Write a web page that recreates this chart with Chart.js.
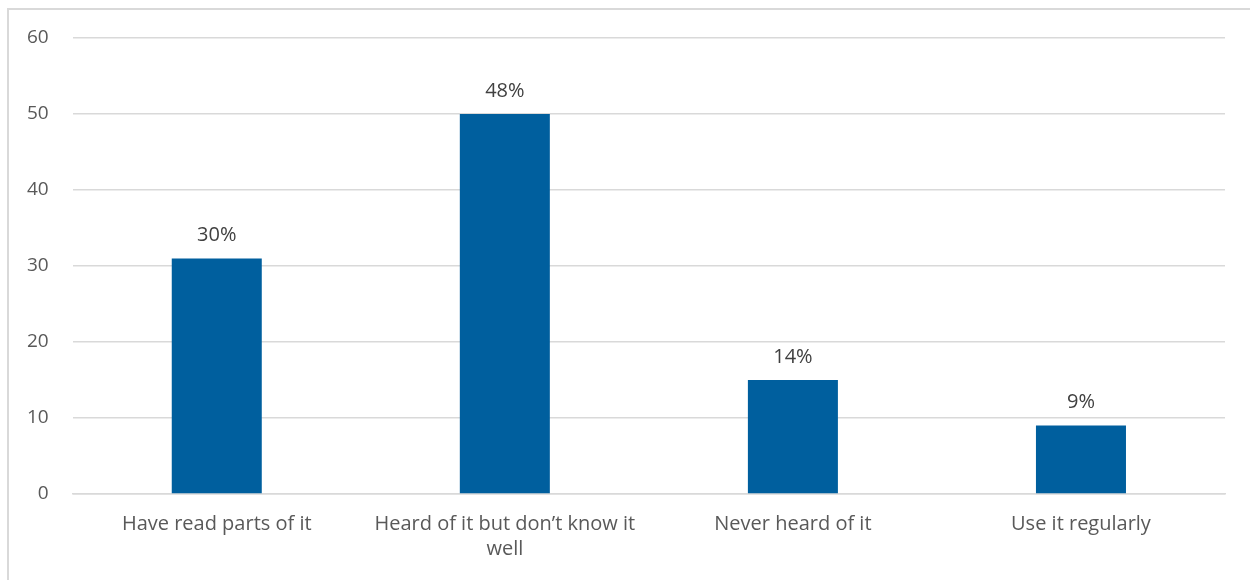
<!DOCTYPE html>
<html>
<head>
<meta charset="utf-8">
<script src="https://cdn.jsdelivr.net/npm/chart.js@4"></script>
<style>
  html, body { margin: 0; padding: 0; background: #fff; overflow: hidden; }
  #frame { position: absolute; left: 7px; top: 8px; width: 1300px; height: 640px; border: 2px solid #d9d9d9; box-sizing: border-box; }
  #c { position: absolute; left: 0; top: 0; }
</style>
</head>
<body>
<div id="frame"></div>
<canvas id="c" width="1250" height="580"></canvas>
<script>
const categories = [
  "Have read parts of it",
  ["Heard of it but don\u2019t know it", "well"],
  "Never heard of it",
  "Use it regularly"
];
const values = [31, 50, 15, 9];
const valueLabels = ["30%", "48%", "14%", "9%"];
const yTicks = [0, 10, 20, 30, 40, 50, 60];

const FONT = "'Open Sans', sans-serif";

const barLabels = {
  id: 'barLabels',
  afterDatasetsDraw(chart) {
    const ctx = chart.ctx;
    const meta = chart.getDatasetMeta(0);
    ctx.save();
    ctx.font = "20px " + FONT;
    ctx.fillStyle = "#404040";
    ctx.textAlign = "center";
    ctx.textBaseline = "bottom";
    meta.data.forEach((bar, i) => {
      ctx.fillText(valueLabels[i], bar.x, bar.y - 13);
    });
    ctx.restore();
  }
};

new Chart(document.getElementById('c'), {
  type: 'bar',
  data: {
    labels: categories,
    datasets: [{
      data: values,
      backgroundColor: '#005f9e',
      barPercentage: 1,
      categoryPercentage: 0.3125
    }]
  },
  options: {
    responsive: false,
    animation: false,
    layout: { padding: { left: 3, right: 25, top: 38, bottom: 0 } },
    plugins: { legend: { display: false }, tooltip: { enabled: false }, title: { display: false } },
    scales: {
      x: {
        grid: { display: false, drawTicks: false },
        border: { display: true, color: '#d9d9d9', width: 1.5 },
        ticks: { color: '#595959', font: { family: FONT, size: 20, lineHeight: 1.25 }, padding: 18, maxRotation: 0, autoSkip: false }
      },
      y: {
        min: 0, max: 60,
        afterBuildTicks(axis) { axis.ticks = yTicks.map(v => ({ value: v })); },
        grid: { color: '#d9d9d9', lineWidth: 1.5, drawTicks: false },
        border: { display: false },
        ticks: { color: '#595959', font: { family: FONT, size: 19 }, padding: 24 }
      }
    }
  },
  plugins: [barLabels]
});
</script>
</body>
</html>
